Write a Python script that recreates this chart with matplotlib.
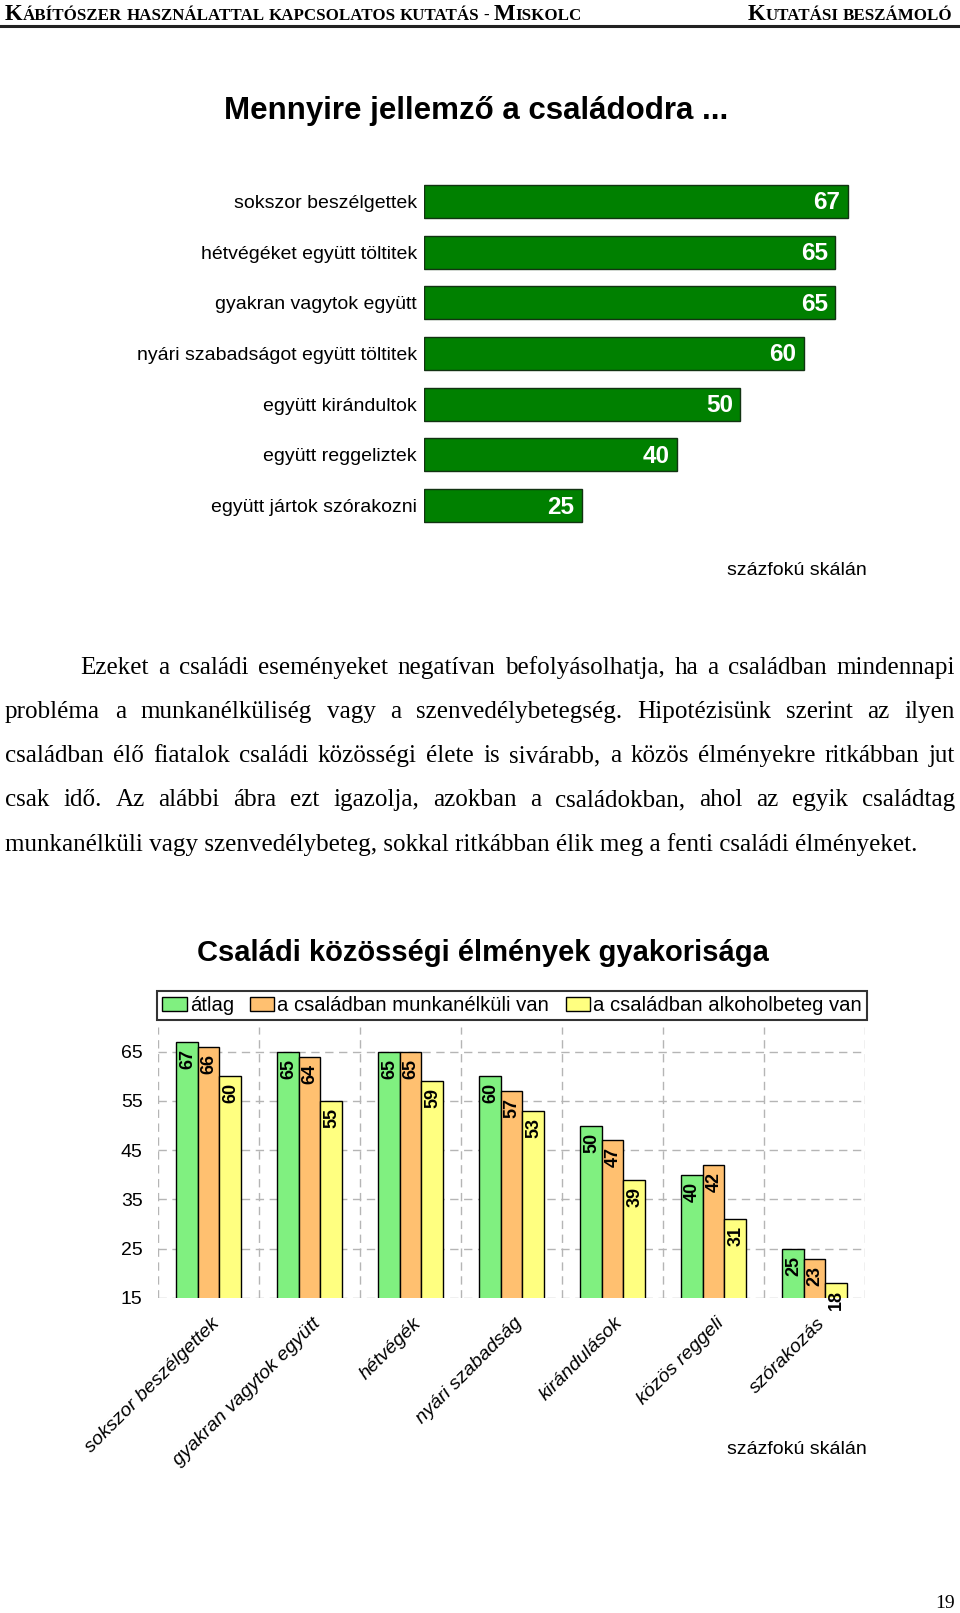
import matplotlib.pyplot as plt
from matplotlib.patches import Patch
from matplotlib.lines import Line2D
from matplotlib.transforms import ScaledTranslation

plt.rcParams['font.family'] = ['Liberation Sans', 'DejaVu Sans']

# top chart data
top_labels = ['sokszor beszélgettek', 'hétvégéket együtt töltitek', 'gyakran vagytok együtt',
              'nyári szabadságot együtt töltitek', 'együtt kirándultok', 'együtt reggeliztek',
              'együtt jártok szórakozni']
top_values = [67, 65, 65, 60, 50, 40, 25]

# bottom chart data
categories = ['sokszor beszélgettek', 'gyakran vagytok együtt', 'hétvégék', 'nyári szabadság',
              'kirándulások', 'közös reggeli', 'szórakozás']
series_names = ['átlag', 'a családban munkanélküli van', 'a családban alkoholbeteg van']
atlag = [67, 65, 65, 60, 50, 40, 25]
munkanelkuli = [66, 64, 65, 57, 47, 42, 23]
alkoholbeteg = [60, 55, 59, 53, 39, 31, 18]
series_colors = ['#80F080', '#FFC070', '#FFFF80']

paragraph = [
    "Ezeket a családi eseményeket negatívan befolyásolhatja, ha a családban mindennapi",
    "probléma a munkanélküliség vagy a szenvedélybetegség. Hipotézisünk szerint az ilyen",
    "családban élő fiatalok családi közösségi élete is sivárabb, a közös élményekre ritkábban jut",
    "csak idő. Az alábbi ábra ezt igazolja, azokban a családokban, ahol az egyik családtag",
    "munkanélküli vagy szenvedélybeteg, sokkal ritkábban élik meg a fenti családi élményeket.",
]

W, H = 960, 1613
fig = plt.figure(figsize=(W / 100, H / 100), dpi=100)
fig.patch.set_facecolor('white')
renderer = fig.canvas.get_renderer()


def fx(x):
    return x / W


def fy(y):
    return 1 - y / H


def text_width(s, **kw):
    t = fig.text(0, 0, s, **kw)
    w = t.get_window_extent(renderer).width
    t.remove()
    return w


# ---- page header (small caps imitation) ----
serif = ['Liberation Serif', 'DejaVu Serif']
big, small = 16.5, 12.2
hdr = dict(family=serif, fontweight='bold', va='baseline')
space_w = text_width('a a', size=small, **hdr) - text_width('aa', size=small, **hdr)


def draw_pieces(pieces, x, y, align='left'):
    widths = [text_width(s, size=sz, **hdr) for s, sz in pieces]
    total = sum(widths) + space_w * sum(1 for s, sz in pieces if s == ' ')
    if align == 'right':
        x = x - total
    for (s, sz), w in zip(pieces, widths):
        if s == ' ':
            x += space_w
            continue
        fig.text(fx(x), fy(y), s, size=sz, **hdr)
        x += w


draw_pieces([('K', big), ('ÁBÍTÓSZER', small), (' ', small), ('HASZNÁLATTAL', small), (' ', small),
             ('KAPCSOLATOS', small), (' ', small), ('KUTATÁS', small), (' ', small), ('-', small),
             (' ', small), ('M', big), ('ISKOLC', small)], 5, 19.5)
draw_pieces([('K', big), ('UTATÁSI', small), (' ', small), ('BESZÁMOLÓ', small)], 957, 19.5, align='right')
fig.add_artist(Line2D([0, 1], [fy(25.5), fy(25.5)], color='#222222', lw=2.2))

# ---- top chart ----
fig.text(fx(224), fy(111), 'Mennyire jellemző a családodra ...', fontsize=22.5, fontweight='bold',
         ha='left', va='center')

ax1 = fig.add_axes([fx(424), fy(531), 443 / W, 355 / H])
ypos = range(len(top_values))
ax1.barh(ypos, top_values, height=0.65, color='#008000', edgecolor='#123312', linewidth=1)
for i, v in enumerate(top_values):
    ax1.annotate(str(v), (v, i), xytext=(-5.5, -1), textcoords='offset points', ha='right', va='center',
                 color='white', fontweight='bold', fontsize=17.5)
ax1.set_xlim(0, 70)
ax1.set_ylim(len(top_values) - 0.5, -0.5)
ax1.set_yticks(list(ypos), top_labels, fontsize=14)
ax1.tick_params(axis='y', length=0, pad=5)
ax1.set_xticks([])
for s in ax1.spines.values():
    s.set_visible(False)
fig.text(fx(797), fy(571), 'százfokú skálán', fontsize=14, ha='center', va='center')

# ---- paragraph (justified) ----
base = text_width(paragraph[-1], size=10, family=serif)
pfs = 10 * 914 / base
line_y = [668, 712, 756, 800, 845]
for k, line in enumerate(paragraph):
    left = 80 if k == 0 else 5
    y = line_y[k]
    words = line.split(' ')
    if k == len(paragraph) - 1:
        fig.text(fx(left), fy(y), line, size=pfs, family=serif, ha='left', va='center')
        continue
    ws = [text_width(w, size=pfs, family=serif) for w in words]
    gap = (955 - left - sum(ws)) / (len(words) - 1)
    x = left
    for w, wd in zip(words, ws):
        fig.text(fx(x), fy(y), w, size=pfs, family=serif, ha='left', va='center')
        x += wd + gap

# ---- bottom chart ----
fig.text(fx(483), fy(953), 'Családi közösségi élmények gyakorisága', fontsize=21, fontweight='bold',
         ha='center', va='center')

ax2 = fig.add_axes([fx(158), fy(1298), 707 / W, 271 / H])
bw = 0.213
xs = range(len(categories))
for j, (vals, col) in enumerate(zip([atlag, munkanelkuli, alkoholbeteg], series_colors)):
    pos = [x + (j - 1) * bw for x in xs]
    ax2.bar(pos, vals, width=bw, color=col, edgecolor='black', linewidth=1, zorder=3)
    for p, v in zip(pos, vals):
        ax2.annotate(str(v), (p, v), xytext=(0.5, -5), textcoords='offset points', rotation=90,
                     ha='center', va='top', fontsize=13, fontweight='bold', zorder=4,
                     annotation_clip=False)

ax2.set_xlim(-0.5, len(categories) - 0.5)
ax2.set_ylim(15, 70)
ax2.set_yticks([15, 25, 35, 45, 55, 65])
ax2.set_xticks(list(xs), categories, rotation=45, ha='right', fontstyle='italic', fontsize=14)
ax2.set_xticks([x - 0.5 for x in range(len(categories) + 1)], minor=True)
ax2.tick_params(axis='both', which='both', length=0)
ax2.tick_params(axis='y', labelsize=14, pad=11)
ax2.tick_params(axis='x', pad=12)
offset = ScaledTranslation(14 / 100, 0, fig.dpi_scale_trans)
for lab in ax2.get_xticklabels():
    lab.set_transform(lab.get_transform() + offset)
ax2.grid(which='minor', axis='x', color='#b5b5b5', linestyle=(0, (6, 4)), linewidth=1)
ax2.grid(which='major', axis='y', color='#b5b5b5', linestyle=(0, (6, 4)), linewidth=1)
for s in ax2.spines.values():
    s.set_visible(False)

handles = [Patch(facecolor=c, edgecolor='black', linewidth=1) for c in series_colors]
leg = fig.legend(handles, series_names, loc='center', bbox_to_anchor=(fx(512), fy(1005.5)), ncol=3,
                 frameon=True, fancybox=False, edgecolor='black', fontsize=14.6, handlelength=1.2,
                 handleheight=0.75, handletextpad=0.15, columnspacing=0.8, borderpad=0.25,
                 borderaxespad=0)
leg.get_frame().set_linewidth(1.5)

fig.text(fx(797), fy(1450), 'százfokú skálán', fontsize=14, ha='center', va='center')
fig.text(fx(945), fy(1603), '19', family=serif, fontsize=14, ha='center', va='center')

plt.savefig('out.png', dpi=100)
